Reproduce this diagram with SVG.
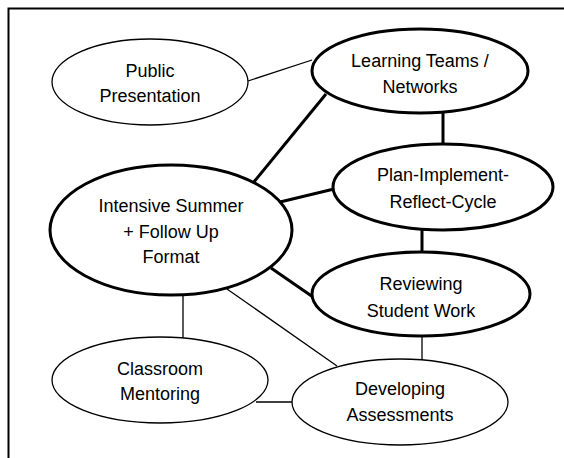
<svg xmlns="http://www.w3.org/2000/svg" width="564" height="458" viewBox="0 0 564 458">
<style>
.n{fill:#fff;stroke:#000;stroke-width:1.3}
.k{fill:#fff;stroke:#000;stroke-width:3}
.t{font-family:"Liberation Sans",Arial,sans-serif;font-size:18px;fill:#000;text-anchor:middle}
.c line{stroke:#000}
.thin{stroke-width:1.3}
.thick{stroke-width:3}
</style>
<rect width="564" height="458" fill="#fff"/>
<path d="M8.5,458 V8.5 H564" fill="none" stroke="#000" stroke-width="2"/>
<g class="c" id="connectors">
<line class="thin" x1="248" y1="81" x2="312" y2="60"/>
<line class="thick" x1="326" y1="94" x2="253" y2="183"/>
<line class="thick" x1="443" y1="112" x2="443" y2="145"/>
<line class="thick" x1="280" y1="202" x2="334" y2="189"/>
<line class="thick" x1="422" y1="230" x2="422" y2="253"/>
<line class="thick" x1="271" y1="268" x2="313" y2="297"/>
<line class="thin" x1="422" y1="337" x2="422" y2="360"/>
<line class="thin" x1="227" y1="289" x2="337" y2="366"/>
<line class="thin" x1="183" y1="294" x2="183" y2="338"/>
<line class="thin" x1="256" y1="402" x2="292" y2="402"/>
</g>
<g id="public">
<ellipse class="n" cx="150" cy="82" rx="98" ry="43"/>
<text class="t" x="150" y="77">Public</text>
<text class="t" x="150" y="102">Presentation</text>
</g>
<g id="learning">
<ellipse class="k" cx="420" cy="71" rx="108" ry="42"/>
<text class="t" x="420" y="67">Learning Teams /</text>
<text class="t" x="420" y="93">Networks</text>
</g>
<g id="plan">
<ellipse class="k" cx="443" cy="187" rx="110" ry="43"/>
<text class="t" x="443" y="181">Plan-Implement-</text>
<text class="t" x="443" y="208">Reflect-Cycle</text>
</g>
<g id="intensive">
<ellipse class="k" cx="171" cy="230" rx="121" ry="65"/>
<text class="t" x="171" y="212">Intensive Summer</text>
<text class="t" x="171" y="238">+ Follow Up</text>
<text class="t" x="171" y="263">Format</text>
</g>
<g id="reviewing">
<ellipse class="k" cx="421" cy="294" rx="109" ry="42"/>
<text class="t" x="421" y="290">Reviewing</text>
<text class="t" x="421" y="317">Student Work</text>
</g>
<g id="classroom">
<ellipse class="n" cx="160" cy="380" rx="108" ry="43"/>
<text class="t" x="160" y="375">Classroom</text>
<text class="t" x="160" y="400">Mentoring</text>
</g>
<g id="developing">
<ellipse class="n" cx="400" cy="402" rx="108" ry="43"/>
<text class="t" x="400" y="395">Developing</text>
<text class="t" x="400" y="421">Assessments</text>
</g>
</svg>
